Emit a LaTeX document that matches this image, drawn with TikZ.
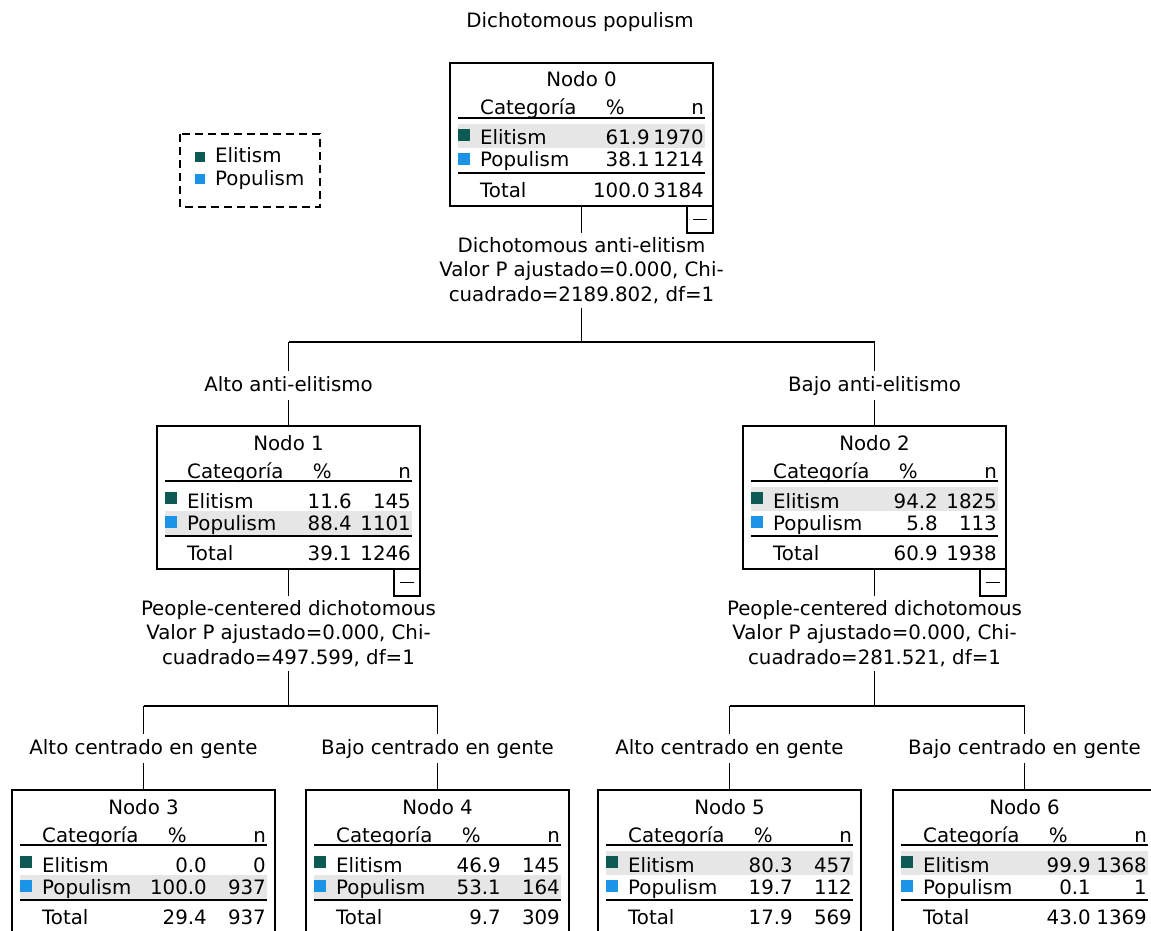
\documentclass[tikz,border=0pt]{standalone}
\usepackage{fontspec}
\newfontfamily\spss{DejaVu Sans}
\definecolor{elit}{HTML}{0D5A54}
\definecolor{popu}{HTML}{1B94E8}
\definecolor{shadegray}{HTML}{E6E6E6}
\newcommand\pcol{196}
\newcommand\treebox[5]{%
  \fill[rowshade] (#2+8,#3+#5) rectangle (#2+255,#3+#5+24);
  \node[box] (#1) at (#2+131.5,#3+71.5) {};
  \node[lbl, anchor=base] (#1title) at (#2+131.5,#3+24) {Nodo #4};
  \node[lbl, anchor=base west] (#1cat) at (#2+30,#3+52) {Categoría};
  \node[lbl, anchor=base east] (#1pct) at (#2+175,#3+52) {\%};
  \node[lbl, anchor=base east] (#1n) at (#2+254,#3+52) {n};
  \draw[rule] (#2+8,#3+55) -- (#2+255,#3+55);
  \node[sq, fill=elit] (#1se) at (#2+14,#3+72) {};
  \node[lbl, anchor=base west] (#1e) at (#2+30,#3+82) {Elitism};
  \node[sq, fill=popu] (#1sp) at (#2+14,#3+96) {};
  \node[lbl, anchor=base west] (#1p) at (#2+30,#3+104) {Populism};
  \draw[rule] (#2+8,#3+110) -- (#2+255,#3+110);
  \node[lbl, anchor=base west] (#1tot) at (#2+30,#3+134) {Total};
}
\newcommand\treevals[9]{%
  \node[lbl, anchor=base east] (#1ev) at (#2+\pcol,#3+82) {#4};
  \node[lbl, anchor=base east] (#1en) at (#2+254,#3+82) {#5};
  \node[lbl, anchor=base east] (#1pv) at (#2+\pcol,#3+104) {#6};
  \node[lbl, anchor=base east] (#1pn) at (#2+254,#3+104) {#7};
  \node[lbl, anchor=base east] (#1tv) at (#2+\pcol,#3+134) {#8};
  \node[lbl, anchor=base east] (#1tn) at (#2+254,#3+134) {#9};
}
\begin{document}
\begin{tikzpicture}[x=1pt,y=-1pt,
  lbl/.style={inner sep=0pt, font=\spss\fontsize{19.8}{24.5}\selectfont},
  box/.style={draw, line width=1.7pt, minimum width=263pt, minimum height=143pt, inner sep=0pt, outer sep=0pt},
  rule/.style={line width=1.6pt},
  sq/.style={minimum size=12pt, inner sep=0pt},
  rowshade/.style={fill=shadegray},
  conn/.style={line width=1.7pt},
  minusbox/.style={draw, line width=1.7pt, minimum width=26pt, minimum height=27pt, inner sep=0pt, outer sep=0pt},
  splitlbl/.style={lbl, align=center, inner ysep=4pt, inner xsep=2pt},
  branch/.style={lbl, text height=15pt, text depth=4pt, inner ysep=5pt, inner xsep=2pt},
]
\clip (0,0) rectangle (1151,931);
\fill[white] (0,0) rectangle (1151,931);

% title
\node[lbl, anchor=base] (title) at (580,28) {Dichotomous populism};

% legend
\draw[line width=1.6pt, dash pattern=on 8pt off 5pt] (180,134) rectangle (320,207);
\node[minimum size=10pt, inner sep=0pt, fill=elit] (lgse) at (200,157) {};
\node[lbl, anchor=base west] (lge) at (215,163) {Elitism};
\node[minimum size=10pt, inner sep=0pt, fill=popu] (lgsp) at (200,179) {};
\node[lbl, anchor=base west] (lgp) at (215,185) {Populism};

% nodes
\renewcommand\pcol{200}
\treebox{n0}{450}{63}{0}{61}
\treevals{n0}{450}{63}{61.9}{1970}{38.1}{1214}{100.0}{3184}
\renewcommand\pcol{195}
\treebox{n1}{157}{426}{1}{85}
\treevals{n1}{157}{426}{11.6}{145}{88.4}{1101}{39.1}{1246}
\treebox{n2}{743}{426}{2}{61}
\treevals{n2}{743}{426}{94.2}{1825}{5.8}{113}{60.9}{1938}
\treebox{n3}{12}{790}{3}{85}
\treevals{n3}{12}{790}{0.0}{0}{100.0}{937}{29.4}{937}
\treebox{n4}{306}{790}{4}{85}
\treevals{n4}{306}{790}{46.9}{145}{53.1}{164}{9.7}{309}
\treebox{n5}{598}{790}{5}{61}
\treevals{n5}{598}{790}{80.3}{457}{19.7}{112}{17.9}{569}
\renewcommand\pcol{198}
\treebox{n6}{893}{790}{6}{61}
\treevals{n6}{893}{790}{99.9}{1368}{0.1}{1}{43.0}{1369}

% collapse boxes
\node[minusbox, anchor=north east] (n0m) at (n0.south east) {\rule{14pt}{1.6pt}};
\node[minusbox, anchor=north east] (n1m) at (n1.south east) {\rule{14pt}{1.6pt}};
\node[minusbox, anchor=north east] (n2m) at (n2.south east) {\rule{14pt}{1.6pt}};

% split labels
\node[splitlbl, anchor=north] (l0) at (581.5,233) {Dichotomous anti-elitism\\Valor P ajustado=0.000, Chi-\\cuadrado=2189.802, df=1};
\node[splitlbl, anchor=north] (l1) at (288.5,596) {People-centered dichotomous\\Valor P ajustado=0.000, Chi-\\cuadrado=497.599, df=1};
\node[splitlbl, anchor=north] (l2) at (874.5,596) {People-centered dichotomous\\Valor P ajustado=0.000, Chi-\\cuadrado=281.521, df=1};

% bars
\coordinate (b0) at (581.5,342);
\coordinate (b0l) at (288.5,342);
\coordinate (b0r) at (874.5,342);
\coordinate (b1) at (288.5,706);
\coordinate (b1l) at (143.5,706);
\coordinate (b1r) at (437.5,706);
\coordinate (b2) at (874.5,706);
\coordinate (b2l) at (729.5,706);
\coordinate (b2r) at (1024.5,706);

% branch labels
\node[branch, anchor=base] (a1) at (288.5,391) {Alto anti-elitismo};
\node[branch, anchor=base] (a2) at (874.5,391) {Bajo anti-elitismo};
\node[branch, anchor=base] (a3) at (143.5,754) {Alto centrado en gente};
\node[branch, anchor=base] (a4) at (437.5,754) {Bajo centrado en gente};
\node[branch, anchor=base] (a5) at (729.5,754) {Alto centrado en gente};
\node[branch, anchor=base] (a6) at (1024.5,754) {Bajo centrado en gente};

% connectors
\draw[conn] (n0.south) -- (l0.north);
\draw[conn] (l0.south) -- (b0);
\draw[conn] (b0l) -- (b0r);
\draw[conn] (b0l) -- (a1.north);
\draw[conn] (a1.south) -- (n1.north);
\draw[conn] (b0r) -- (a2.north);
\draw[conn] (a2.south) -- (n2.north);

\draw[conn] (n1.south) -- (l1.north);
\draw[conn] (l1.south) -- (b1);
\draw[conn] (b1l) -- (b1r);
\draw[conn] (b1l) -- (a3.north);
\draw[conn] (a3.south) -- (n3.north);
\draw[conn] (b1r) -- (a4.north);
\draw[conn] (a4.south) -- (n4.north);

\draw[conn] (n2.south) -- (l2.north);
\draw[conn] (l2.south) -- (b2);
\draw[conn] (b2l) -- (b2r);
\draw[conn] (b2l) -- (a5.north);
\draw[conn] (a5.south) -- (n5.north);
\draw[conn] (b2r) -- (a6.north);
\draw[conn] (a6.south) -- (n6.north);
\end{tikzpicture}
\end{document}
